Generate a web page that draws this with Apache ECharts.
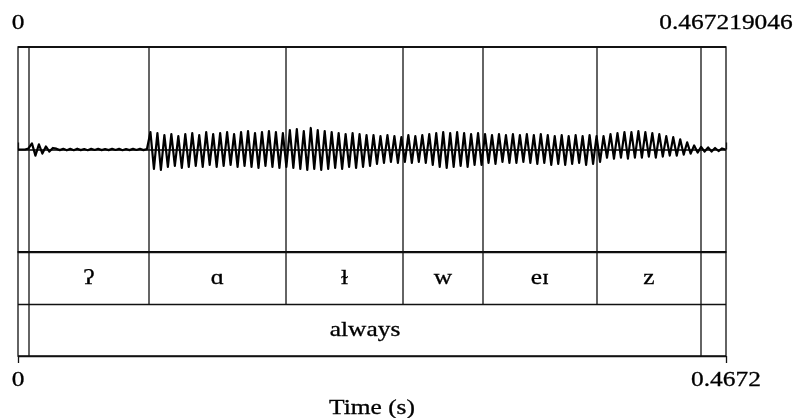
<!DOCTYPE html>
<html>
<head>
<meta charset="utf-8">
<script src="https://cdn.jsdelivr.net/npm/echarts@6/dist/echarts.min.js"></script>
<style>
html,body{margin:0;padding:0;background:#fff;}
#chart{width:795px;height:418px;}
</style>
</head>
<body>
<div id="chart"></div>
<script>
// ---- data ----
const totalDuration = 0.467219046;
const tickTimes = [0, 0.467219046];
const topTickLabels = ['0', '0.467219046'];
const bottomTickLabels = ['0', '0.4672'];
const axisTitle = 'Time (s)';
const phoneBoundaries = [0.00726, 0.08645, 0.17686, 0.25407, 0.30686, 0.38209, 0.45072];
const phoneLabels = ['ʔ', 'ɑ', 'ɫ', 'w', 'eɪ', 'z'];
const wordBoundaries = [0.00726, 0.45072];
const wordLabels = ['always'];
const waveStep = 0.0023;
const waveValues = [
  0, 0, 0, 0.01, 0.06, -0.06, 0.05, -0.04, 0.03, -0.02, 0.015,
  0.008,-0.006,0.007,-0.008,0.006,-0.007,0.008,-0.006,0.005,-0.007,0.006,-0.005,0.007,-0.006,0.005,-0.006,0.007,-0.005,0.006,-0.007,0.005,-0.006,0.006,-0.005,0.007,-0.006,0.005,
  0.17,-0.19,0.16,-0.2,
  0.14,-0.17,0.15,-0.16,0.13,-0.18,0.15,-0.17,
  0.16,-0.16,0.14,-0.17,0.17,-0.15,0.15,-0.17,0.16,-0.16,0.17,-0.15,0.15,-0.17,
  0.17,-0.16,0.18,-0.17,0.16,-0.18,0.17,-0.16,0.18,-0.17,0.17,-0.18,0.16,-0.17,
  0.19,-0.18,0.2,-0.19,0.18,-0.2,0.21,-0.19,0.19,-0.2,0.18,-0.19,
  0.17,-0.18,0.16,-0.19,0.15,-0.17,0.16,-0.18,0.15,-0.17,0.14,-0.16,
  0.14,-0.14,0.13,-0.13,0.14,-0.12,0.13,-0.13,0.12,-0.12,0.14,-0.13,0.13,-0.12,0.14,-0.13,0.15,
  -0.15,0.16,-0.17,0.17,-0.18,0.16,-0.17,0.17,-0.16,0.16,-0.17,0.15,-0.15,0.16,-0.15,
  0.15,-0.13,0.14,-0.14,0.15,-0.12,0.14,-0.13,0.15,-0.13,0.14,-0.12,0.15,-0.13,0.14,-0.14,0.15,-0.13,
  0.14,-0.15,0.13,-0.14,0.14,-0.15,0.13,-0.14,0.14,-0.13,0.13,-0.15,0.14,-0.14,0.13,-0.12,
  0.13,-0.08,0.15,-0.09,0.16,-0.08,0.17,-0.09,0.17,-0.08,
  0.18,-0.08,0.17,-0.07,0.16,-0.08,0.15,-0.07,0.13,-0.06,0.12,-0.06,
  0.1,-0.05,0.07,-0.04,0.04,-0.03,
  0.025,-0.02,0.02,-0.02,0.015,-0.015,0.01,0
];

// ---- build ----
const FONT = '21px "Liberation Serif", "Times New Roman", "DejaVu Serif", serif';
const SX = 1.21;
const waveData = waveValues.map((v, i) => [i * waveStep, v]);

function intervals(bounds, labels) {
  const out = [];
  for (let i = 0; i < labels.length; i++) out.push([(bounds[i] + bounds[i + 1]) / 2, i]);
  return out;
}
function txtStyle(text) {
  return { text: text, fill: '#000', stroke: '#000', lineWidth: 0.3, font: FONT, align: 'center', verticalAlign: 'middle' };
}
function vline(y0, y1) {
  return function (params, api) {
    const a = api.coord([api.value(0), y0]);
    const b = api.coord([api.value(0), y1]);
    return { type: 'line', shape: { x1: a[0], y1: a[1], x2: b[0], y2: b[1] },
      style: { stroke: '#111', lineWidth: 1.3 } };
  };
}
function textAt(labels, yv) {
  return function (params, api) {
    const p = api.coord([api.value(0), yv]);
    return { type: 'text', x: p[0], y: p[1], scaleX: SX, style: txtStyle(labels[params.dataIndex]) };
  };
}

const chart = echarts.init(document.getElementById('chart'), null, { renderer: 'canvas' });
const axisCommon = {
  type: 'value', min: 0, max: totalDuration, interval: totalDuration,
  axisLine: { show: false }, axisLabel: { show: false }, splitLine: { show: false },
  axisTick: { show: true, length: 7, lineStyle: { color: '#111', width: 1.3 } }
};
chart.setOption({
  animation: false,
  backgroundColor: '#fff',
  grid: [
    { left: 18, width: 708, top: 47, height: 205, show: true, borderColor: '#111', borderWidth: 1.3, backgroundColor: 'transparent' },
    { left: 18, width: 708, top: 252, height: 104, show: true, borderColor: '#111', borderWidth: 1.3, backgroundColor: 'transparent' }
  ],
  xAxis: [
    Object.assign({}, axisCommon, { gridIndex: 0, position: 'top' }),
    Object.assign({}, axisCommon, { gridIndex: 1, position: 'bottom' })
  ],
  yAxis: [
    { type: 'value', gridIndex: 0, min: -1, max: 1, interval: 1, axisLine: { show: false }, axisTick: { show: false }, axisLabel: { show: false },
      splitLine: { show: true, lineStyle: { color: '#000', width: 1.5 } } },
    { type: 'value', gridIndex: 1, min: 0, max: 2, interval: 1, axisLine: { show: false }, axisTick: { show: false }, axisLabel: { show: false },
      splitLine: { show: true, lineStyle: { color: '#111', width: 1.3 } } }
  ],
  graphic: [
    { type: 'text', x: 18 + 708 / 2, y: 408, scaleX: SX, style: txtStyle(axisTitle) }
  ],
  series: [
    { type: 'custom', xAxisIndex: 0, yAxisIndex: 0, data: phoneBoundaries.map(t => [t]), renderItem: vline(-1, 1), z: 2 },
    { type: 'line', xAxisIndex: 0, yAxisIndex: 0, data: waveData, showSymbol: false, symbol: 'none',
      lineStyle: { color: '#000', width: 2.2, join: 'round' }, z: 3, silent: true },
    { type: 'custom', xAxisIndex: 1, yAxisIndex: 1, data: phoneBoundaries.map(t => [t]), renderItem: vline(1, 2) },
    { type: 'custom', xAxisIndex: 1, yAxisIndex: 1, data: wordBoundaries.map(t => [t]), renderItem: vline(0, 1) },
    { type: 'custom', xAxisIndex: 1, yAxisIndex: 1, data: intervals(phoneBoundaries, phoneLabels), renderItem: textAt(phoneLabels, 1.5) },
    { type: 'custom', xAxisIndex: 1, yAxisIndex: 1, data: intervals(wordBoundaries, wordLabels), renderItem: textAt(wordLabels, 0.5) },
    { type: 'custom', xAxisIndex: 0, yAxisIndex: 0, data: tickTimes.map(t => [t]),
      renderItem: function (params, api) {
        const p = api.coord([api.value(0), 1]);
        return { type: 'text', x: p[0], y: params.coordSys.y - 24, scaleX: SX, style: txtStyle(topTickLabels[params.dataIndex]) };
      } },
    { type: 'custom', xAxisIndex: 1, yAxisIndex: 1, data: tickTimes.map(t => [t]),
      renderItem: function (params, api) {
        const p = api.coord([api.value(0), 0]);
        return { type: 'text', x: p[0], y: params.coordSys.y + params.coordSys.height + 24, scaleX: SX, style: txtStyle(bottomTickLabels[params.dataIndex]) };
      } }
  ]
});
</script>
</body>
</html>
